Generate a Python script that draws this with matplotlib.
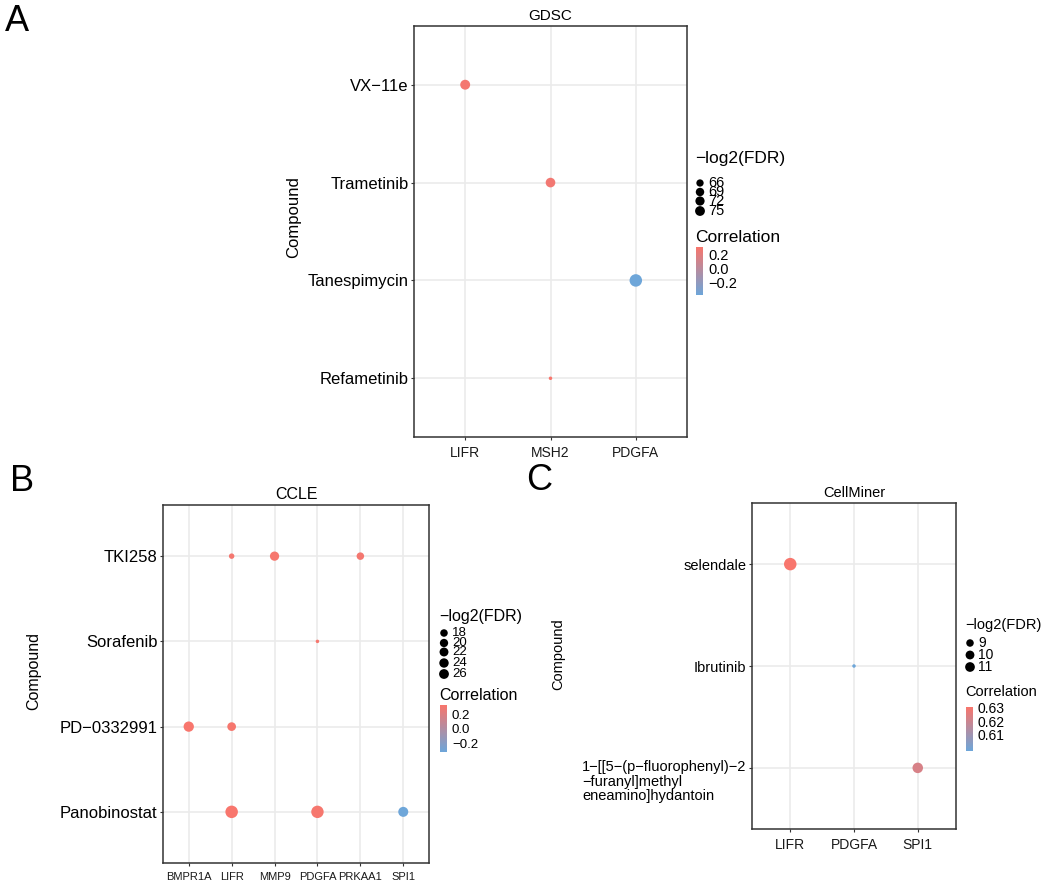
import numpy as np
import matplotlib
matplotlib.use("Agg")
import matplotlib.pyplot as plt
from matplotlib.colors import LinearSegmentedColormap, Normalize

plt.rcParams['font.family'] = ['Liberation Sans', 'DejaVu Sans']

# ---- data ----
# panel A: GDSC
a_genes = ["LIFR", "MSH2", "PDGFA"]
a_drugs = ["Refametinib", "Tanespimycin", "Trametinib", "VX\u221211e"]
a_gene = ["LIFR", "MSH2", "PDGFA", "MSH2"]
a_drug = ["VX\u221211e", "Trametinib", "Tanespimycin", "Refametinib"]
a_fdr = [70.5, 70.0, 76.0, 64.8]
a_cor = [0.31, 0.30, -0.36, 0.33]
a_size_breaks = [66, 69, 72, 75]
a_cor_breaks = [0.2, 0.0, -0.2]
a_cor_lim = (-0.36, 0.33)

# panel B: CCLE
b_genes = ["BMPR1A", "LIFR", "MMP9", "PDGFA", "PRKAA1", "SPI1"]
b_drugs = ["Panobinostat", "PD\u22120332991", "Sorafenib", "TKI258"]
b_gene = ["LIFR", "MMP9", "PRKAA1", "PDGFA", "BMPR1A", "LIFR", "LIFR", "PDGFA", "SPI1"]
b_drug = ["TKI258", "TKI258", "TKI258", "Sorafenib", "PD\u22120332991", "PD\u22120332991",
          "Panobinostat", "Panobinostat", "Panobinostat"]
b_fdr = [17.0, 20.8, 18.6, 16.5, 22.5, 20.0, 27.0, 26.8, 22.0]
b_cor = [0.33, 0.34, 0.33, 0.34, 0.35, 0.34, 0.35, 0.34, -0.30]
b_size_breaks = [18, 20, 22, 24, 26]
b_cor_breaks = [0.2, 0.0, -0.2]
b_cor_lim = (-0.30, 0.35)

# panel C: CellMiner
c_genes = ["LIFR", "PDGFA", "SPI1"]
c_long = "1\u2212[[5\u2212(p\u2212fluorophenyl)\u22122\n\u2212furanyl]methyl\neneamino]hydantoin"
c_drugs = [c_long, "Ibrutinib", "selendale"]
c_gene = ["LIFR", "PDGFA", "SPI1"]
c_drug = ["selendale", "Ibrutinib", c_long]
c_fdr = [11.4, 8.6, 10.3]
c_cor = [0.6312, 0.599, 0.6235]
c_size_breaks = [9, 10, 11]
c_cor_breaks = [0.63, 0.62, 0.61]
c_cor_lim = (0.599, 0.6312)

W, H = 1052, 880
DPI = 100
fig = plt.figure(figsize=(W / DPI, H / DPI), dpi=DPI)

cmap = LinearSegmentedColormap.from_list("bluered", ["#6EA6D9", "#F8766D"])
GRID = "#EBEBEB"
BORDER = "#333333"


def px_axes(l, t, r, b):
    return fig.add_axes([l / W, 1 - b / H, (r - l) / W, (b - t) / H])


def frac(v, lo, hi):
    f = (np.asarray(v, float) - lo) / (hi - lo)
    return np.sqrt(np.clip(f, 0, 1))


def s_of(d):
    return (d * 72.0 / DPI) ** 2


def dotplot(box, genes, drugs, gene, drug, fdr, cor, clim, title,
            xfs, yfs, tfs, lfs, lab_px):
    l, t, r, b = box
    ax = px_axes(*box)
    xi = [genes.index(g) for g in gene]
    yi = [drugs.index(d) for d in drug]
    lo, hi = min(fdr), max(fdr)
    norm = Normalize(*clim)
    ax.set_axisbelow(True)
    ax.grid(True, color=GRID, lw=1.2)
    ax.scatter(xi, yi, s=s_of(3.5 + 9 * frac(fdr, lo, hi)), c=cor, cmap=cmap, norm=norm,
               linewidths=0, zorder=3)
    ax.set_xticks(range(len(genes)))
    ax.set_xticklabels(genes, fontsize=xfs, color="#1a1a1a")
    ax.set_yticks(range(len(drugs)))
    ax.set_yticklabels(drugs, fontsize=yfs, color="black")
    ax.set_xlim(-0.6, len(genes) - 0.4)
    ax.set_ylim(-0.6, len(drugs) - 0.4)
    for sp in ax.spines.values():
        sp.set_color(BORDER)
        sp.set_linewidth(1.1)
    ax.tick_params(axis="both", length=2.5, width=0.8, color=BORDER)
    ax.tick_params(axis="y", pad=1.5)
    ax.tick_params(axis="x", pad=4)
    ax.set_title(title, fontsize=tfs, pad=4)
    ax.set_ylabel("Compound", fontsize=lfs)
    # label centre given in pixels; the label is anchored at its right edge
    half = lfs * DPI / 72 * 0.5
    ax.yaxis.set_label_coords((lab_px + half - l) / (r - l), 0.535)
    return ax, lo, hi


def legend(x, y_title, dot_ys, breaks, lo, hi, cor_title_y, cb_top, cb_bot,
           cb_ticks, clim, label_ys, tfs, lfs, ndec):
    ov = fig.add_axes([0, 0, 1, 1], facecolor="none")
    ov.set_xlim(0, W)
    ov.set_ylim(H, 0)
    ov.axis("off")
    ov.text(x, y_title, "\u2212log2(FDR)", fontsize=tfs, va="center", ha="left")
    d = 6 + 4 * frac(breaks, lo, hi)
    ov.scatter([x + 5] * len(breaks), dot_ys, s=s_of(d), c="black", linewidths=0)
    for yy, b in zip(dot_ys, breaks):
        ov.text(x + 13, yy, str(b), fontsize=lfs, va="center", ha="left")
    ov.text(x, cor_title_y, "Correlation", fontsize=tfs, va="center", ha="left")
    cax = px_axes(x + 1, cb_top, x + 8, cb_bot)
    grad = np.linspace(clim[1], clim[0], 100).reshape(-1, 1)
    cax.imshow(grad, aspect="auto", cmap=cmap, norm=Normalize(*clim),
               extent=(0, 1, clim[0], clim[1]))
    cax.axis("off")
    for yy, t in zip(label_ys, cb_ticks):
        txt = ("\u2212" if t < 0 else "") + f"{abs(t):.{ndec}f}"
        ov.text(x + 13, yy, txt, fontsize=lfs, va="center", ha="left")


# panel A
axA, lo, hi = dotplot((414, 26, 687, 437), a_genes, a_drugs, a_gene, a_drug, a_fdr, a_cor,
                      a_cor_lim, "GDSC", 10, 12, 11, 12, 293)
legend(695, 159, [183, 192, 201, 211], a_size_breaks, lo, hi, 237, 247, 295,
       a_cor_breaks, a_cor_lim, [256, 270, 284], 12.5, 10.5, 1)

# panel B
axB, lo, hi = dotplot((163, 505, 429, 863), b_genes, b_drugs, b_gene, b_drug, b_fdr, b_cor,
                      b_cor_lim, "CCLE", 8, 12, 11.5, 11.5, 33)
legend(439, 617, [633, 643, 652, 663, 674], b_size_breaks, lo, hi, 695, 705, 752,
       b_cor_breaks, b_cor_lim, [716, 730, 745], 11.5, 9.5, 1)

# panel C
axC, lo, hi = dotplot((752, 503, 956, 829), c_genes, c_drugs, c_gene, c_drug, c_fdr, c_cor,
                      c_cor_lim, "CellMiner", 10, 10.5, 10.5, 10.5, 558)
legend(965, 625, [643, 655, 667], c_size_breaks, lo, hi, 692, 707, 751,
       c_cor_breaks, c_cor_lim, [709, 723, 736], 10.5, 10, 2)

# long multi-line label in C: first line level with its tick, lines left-aligned
labs = [l.get_text() for l in axC.get_yticklabels()]
labs[0] = ""
axC.set_yticklabels(labs, fontsize=10.5)
axC.annotate(c_long, xy=(0, 0), xycoords=("axes fraction", "data"), xytext=(-4, 5.5),
             textcoords="offset points", ha="right", va="top",
             multialignment="left", linespacing=1.05, fontsize=10.5)

# panel letters
fig.text(5 / W, 1 - 4 / H, "A", fontsize=26, va="top", ha="left")
fig.text(10 / W, 1 - 464 / H, "B", fontsize=26, va="top", ha="left")
fig.text(526 / W, 1 - 463 / H, "C", fontsize=26, va="top", ha="left")

fig.savefig("out.png", dpi=DPI)
